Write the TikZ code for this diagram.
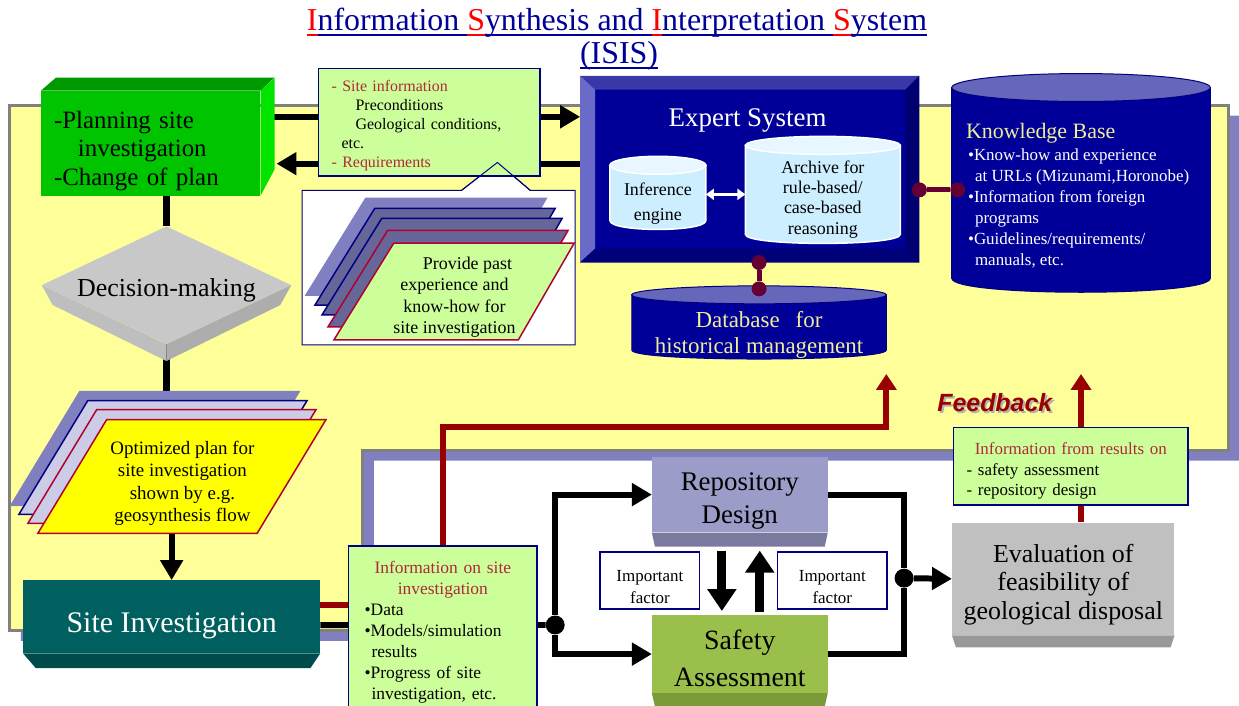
\documentclass[tikz,border=0pt]{standalone}
\usepackage{fontspec}
\setmainfont{Liberation Serif}
\newfontfamily\fbfont{Liberation Sans}
\usetikzlibrary{arrows.meta,calc,shapes.geometric}
\definecolor{bgyel}{HTML}{FFFF99}
\definecolor{bggray}{HTML}{808080}
\definecolor{lav}{HTML}{8080C0}
\definecolor{ttlblue}{HTML}{000099}
\definecolor{navyb}{HTML}{000080}
\definecolor{lgreen}{HTML}{CCFF99}
\definecolor{infored}{HTML}{B0283C}
\definecolor{gfront}{HTML}{00C400}
\definecolor{gtop}{HTML}{009A00}
\definecolor{gside}{HTML}{00E400}
\definecolor{esface}{HTML}{000099}
\definecolor{estop}{HTML}{3838A8}
\definecolor{esleft}{HTML}{6A6AC8}
\definecolor{esright}{HTML}{000070}
\definecolor{esbot}{HTML}{000078}
\definecolor{cylblue}{HTML}{CCEEFF}
\definecolor{cyltop}{HTML}{E8F6FF}
\definecolor{cyllav}{HTML}{6666BB}
\definecolor{khaki}{HTML}{EEEE99}
\definecolor{linkred}{HTML}{660033}
\definecolor{fbred}{HTML}{990000}
\definecolor{pgray}{HTML}{666699}
\definecolor{plight}{HTML}{CCCCE6}
\definecolor{pyel}{HTML}{FFFF00}
\definecolor{redb}{HTML}{B00030}
\definecolor{dtop}{HTML}{C8C8C8}
\definecolor{dleft}{HTML}{BEBEBE}
\definecolor{dright}{HTML}{ADADAD}
\definecolor{sicol}{HTML}{006060}
\definecolor{sibot}{HTML}{004C4C}
\definecolor{rdcol}{HTML}{9C9CC8}
\definecolor{rdbot}{HTML}{7A7A9E}
\definecolor{sacol}{HTML}{9BBF4B}
\definecolor{sabot}{HTML}{7A9A38}
\definecolor{evcol}{HTML}{C0C0C0}
\definecolor{evbot}{HTML}{999999}
\pgfdeclarelayer{back}
\pgfdeclarelayer{conn}
\pgfsetlayers{back,conn,main}
\newcommand\fsz[2]{\fontsize{#1}{#2}\selectfont}
\newcommand\lo[1]{\rule{0pt}{#1pt}}
\newcommand\ulc[2]{\sbox0{#2}\rlap{\color{#1}\rule[-5pt]{\wd0}{2.2pt}}\usebox0}
\newcommand\drawcyl[4]{%
  \path[#2] let \p1=(#1.north west),\p2=(#1.south east) in
    (\x1,\y1) -- (\x1,\y2+#4pt) .. controls (\x1,\y2-#4pt/3) and (\x2,\y2-#4pt/3) .. (\x2,\y2+#4pt) -- (\x2,\y1) -- cycle;
  \path[#3] let \p1=(#1.north west),\p2=(#1.north east) in
    (#1.north) ellipse [x radius={(\x2-\x1)/2}, y radius=#4pt];}

\begin{document}
\begin{tikzpicture}[x=1pt,y=-1pt,
    corner/.style={inner sep=0pt,anchor=north west},
    infobox/.style={corner,draw=navyb,line width=1.5pt,fill=lgreen},
    impbox/.style={draw=navyb,line width=1.5pt,fill=white,align=center,inner sep=0pt,font=\fsz{17}{23}},
    cylbox/.style={inner sep=0pt},
    cyltxt/.style={inner sep=0pt,align=center},
    blk/.style={line width=6pt},
    arr/.style={line width=6pt,-{Triangle[length=20pt,width=22pt]}},
    fatarr/.style={line width=9pt,-{Triangle[length=22pt,width=28pt]}},
    fbarr/.style={line width=6pt,draw=fbred,-{Triangle[length=16pt,width=20pt]}},
    link/.style={line width=5pt,draw=linkred},
    ldot/.style={circle,fill=linkred,inner sep=0pt,minimum size=15pt},
    jdot/.style={circle,fill=black,inner sep=0pt,minimum size=19pt},
    paper/.style={line width=1.5pt}]
\begin{pgfonlayer}{back}
  \fill[white] (0,0) rectangle (1239,708);
  \fill[lav] (21,116) -- (1243,116) -- (1243,462) -- (375,462) -- (375,643) -- (21,643) -- cycle;
  \filldraw[fill=bgyel,draw=bggray,line width=3pt] (10,106) -- (1232,106) -- (1232,452) -- (364,452) -- (364,633) -- (10,633) -- cycle;
\end{pgfonlayer}
\useasboundingbox (0,0) rectangle (1239,708);

\node[anchor=base,inner sep=0pt,text=ttlblue,font=\fsz{32}{36}] (title) at (619,31) {\ulc{red}{\color{red}I}\ulc{ttlblue}{nformation }\ulc{red}{\color{red}S}\ulc{ttlblue}{ynthesis and }\ulc{red}{\color{red}I}\ulc{ttlblue}{nterpretation }\ulc{red}{\color{red}S}\ulc{ttlblue}{ystem}};
\node[anchor=base,inner sep=0pt,text=ttlblue,font=\fsz{32}{36}] (isis) at (621,64) {\ulc{ttlblue}{(ISIS)}};

\node[corner,fill=gfront,minimum width=220pt,minimum height=105pt,inner xsep=13pt,text width=194pt,align=left,font=\fsz{25}{28.5}] (plan) at (41,91) {\lo{33}-Planning site\\\hspace*{24pt}investigation\\-Change of plan};
\fill[gtop] (plan.north west) -- ++(15,-13) -- ++(219,0) -- (plan.north east) -- cycle;
\fill[gside] (plan.north east) -- ++(14,-13) -- ++(0,92) -- (plan.south east) -- cycle;

\filldraw[fill=white,draw=navyb,line width=1pt] (303,191) -- (463,191) -- (499,163) -- (532,191) -- (577,191) -- (577,346) -- (303,346) -- cycle;
\node[infobox,minimum width=222pt,minimum height=108pt,inner xsep=13pt,text width=196pt,align=left,font=\fsz{16}{19}] (siteinfo) at (319,68) {\lo{17}{\color{infored}- Site information}\\\hspace*{24pt}Preconditions\\\hspace*{24pt}Geological conditions,\\\hspace*{10pt}etc.\\{\color{infored}- Requirements}};
\draw[navyb,line width=1pt] (463,191) -- (499,163) -- (532,191);
\foreach \dx/\dy/\fc/\dc in {-28/-45/lav/lav,-19/-35/pgray/navyb,-12/-25/pgray/navyb,-6/-13/pgray/redb,0/0/lgreen/redb}
  \filldraw[paper,fill=\fc,draw=\dc,shift={(\dx,\dy)}] (395,244) -- (576,244) -- (520,341) -- (335,341) -- cycle;
\node[cyltxt,font=\fsz{18}{21.5}] (past) at (456,298) {\hspace*{26pt}Provide past\\experience and\\know-how for\\site investigation};

\node[corner,fill=esface,minimum width=340pt,minimum height=187pt] (es) at (582,76) {};
\fill[estop] (es.north west) -- (es.north east) -- ++(-14,14) -- ([shift={(15,14)}]es.north west) -- cycle;
\fill[esleft] (es.north west) -- ([shift={(15,14)}]es.north west) -- ([shift={(15,-14)}]es.south west) -- (es.south west) -- cycle;
\fill[esright] (es.north east) -- ([shift={(-14,14)}]es.north east) -- ([shift={(-14,-14)}]es.south east) -- (es.south east) -- cycle;
\fill[esbot] (es.south west) -- ([shift={(15,-14)}]es.south west) -- ([shift={(-14,-14)}]es.south east) -- (es.south east) -- cycle;
\node[text=white,font=\fsz{27}{30}] (estitle) at (750,121) {Expert System};

\path (660,198) node[cylbox,minimum width=96pt,minimum height=64pt] (inf) {};
\drawcyl{inf}{fill=cylblue,draw=white,line width=1.5pt}{fill=cyltop,draw=white,line width=1.5pt}{9}
\node[cyltxt,font=\fsz{18}{25}] (inftxt) at ([yshift=-6pt]inf.center) {Inference\\engine};
\path (825.5,195) node[cylbox,minimum width=155pt,minimum height=98pt] (arch) {};
\drawcyl{arch}{fill=cylblue,draw=white,line width=1.5pt}{fill=cyltop,draw=white,line width=1.5pt}{9}
\node[cyltxt,font=\fsz{18}{20.5}] (archtxt) at ([yshift=-5pt]arch.center) {Archive for\\rule-based/\\case-based\\reasoning};
\draw[white,line width=3pt,{Triangle[length=8pt,width=11pt]}-{Triangle[length=8pt,width=11pt]}] (inf.east |- arch) -- (arch.west);

\path (1084.5,190.5) node[cylbox,minimum width=259pt,minimum height=205pt] (kb) {};
\drawcyl{kb}{fill=esface,draw=navyb,line width=1pt}{fill=cyllav,draw=navyb,line width=1pt}{14}
\node[anchor=west,inner sep=0pt,text=khaki,font=\fsz{22}{26}] (kbtitle) at (969,134) {Knowledge Base};
\node[anchor=north west,align=left,inner sep=0pt,text=white,font=\fsz{17}{21}] (kbtext) at (971,149) {\textbullet Know-how and experience\\\hspace*{7pt}at URLs (Mizunami,Horonobe)\\\textbullet Information from foreign\\\hspace*{7pt}programs\\\textbullet Guidelines/requirements/\\\hspace*{7pt}manuals, etc.};

\path (761.5,328) node[cylbox,minimum width=255pt,minimum height=64pt] (db) {};
\drawcyl{db}{fill=esface,draw=navyb,line width=1pt}{fill=cyllav,draw=navyb,line width=1pt}{9}
\node[cyltxt,text=khaki,font=\fsz{23}{26}] (dbtxt) at ([yshift=-8pt]db.center) {Database\hspace{0.7em}for\\historical management};

\node[ldot] (d1) at (es.east |- kb.west) {};
\node[ldot] (d2) at ([xshift=6pt]kb.west) {};
\node[ldot] (d3) at (db.north |- es.south) {};
\node[ldot] (d4) at ([yshift=6pt]db.north) {};

\node[diamond,aspect=2.12,inner sep=0pt,minimum width=250pt,minimum height=118pt,fill=dtop,font=\fsz{26}{28}] (dec) at (167,286) {\raisebox{-5pt}[\height][\depth]{Decision-making}};
\fill[dleft] (dec.west) -- (dec.south) -- ++(0,17) -- ([shift={(11,20)}]dec.west) -- cycle;
\fill[dright] (dec.east) -- (dec.south) -- ++(0,17) -- ([shift={(-11,20)}]dec.east) -- cycle;

\foreach \dx/\dy/\fc/\dc in {-27/-28/lav/lav,-19/-19/plight/navyb,-10/-10/plight/redb,0/0/pyel/redb}
  \filldraw[paper,fill=\fc,draw=\dc,shift={(\dx,\dy)}] (107,421) -- (327,421) -- (258,535) -- (38,535) -- cycle;
\node[cyltxt,font=\fsz{19}{22.3}] (opt) at (183,485) {Optimized plan for\\site investigation\\shown by e.g.\\geosynthesis flow};

\node[corner,fill=sicol,minimum width=298pt,minimum height=73pt,text=white,font=\fsz{30}{32}] (si) at (23,582) {\raisebox{-9pt}[\height][\depth]{Site Investigation}};
\fill[sibot] (si.south west) -- (si.south east) -- ++(-10,15) -- ([shift={(13,15)}]si.south west) -- cycle;

\node[infobox,minimum width=189pt,minimum height=165pt,inner xsep=16pt,text width=157pt,align=left,font=\fsz{17.5}{21}] (siinv) at (349,547) {\lo{20}\makebox[\linewidth]{\color{infored}Information on site}\\\makebox[\linewidth]{\color{infored}investigation}\\\textbullet Data\\\textbullet Models/simulation\\\hspace*{7pt}results\\\textbullet Progress of site\\\hspace*{7pt}investigation, etc.};

\node[jdot] (jl) at (557,627) {};
\node[corner,fill=rdcol,minimum width=176pt,minimum height=76pt,align=center,font=\fsz{27}{33}] (rd) at (654,458) {\lo{31}Repository\\Design};
\fill[rdbot] (rd.south west) -- (rd.south east) -- ++(-3,14) -- ([shift={(3,14)}]rd.south west) -- cycle;
\node[corner,fill=sacol,minimum width=176pt,minimum height=78pt,align=center,font=\fsz{28}{37}] (sa) at (654,617) {\lo{28}Safety\\Assessment};
\fill[sabot] (sa.south west) -- (sa.south east) -- ++(-3,13) -- ([shift={(3,13)}]sa.south west) -- cycle;
\node[impbox,minimum width=100pt,minimum height=57pt] (imp1) at (652,582.5) {\lo{24}Important\\factor};
\node[impbox,minimum width=110pt,minimum height=57pt] (imp2) at (835,582.5) {\lo{24}Important\\factor};
\draw[fatarr] ([shift={(-18,18)}]rd.south) -- ([shift={(-18,-4)}]sa.north);
\draw[fatarr] ([shift={(20,-3)}]sa.north) -- ([shift={(20,18)}]rd.south);

\node[jdot] (jr) at (907,580) {};
\node[corner,fill=evcol,minimum width=223pt,minimum height=113pt,align=center,font=\fsz{26}{29}] (ev) at (955,524) {\lo{30}Evaluation of\\feasibility of\\geological disposal};
\fill[evbot] (ev.south west) -- (ev.south east) -- ++(-4,12) -- ([shift={(4,12)}]ev.south west) -- cycle;

\node[infobox,minimum width=235pt,minimum height=78pt,inner xsep=13pt,text width=209pt,align=left,font=\fsz{17}{20.5}] (res) at (956,428) {\lo{22}\makebox[\linewidth]{\color{infored}Information from results on}\\- safety assessment\\- repository design};

\node[font=\fbfont\bfseries\itshape\fsz{25}{27},text=gray!60] (fbshadow) at (1000,406) {Feedback};
\node[font=\fbfont\bfseries\itshape\fsz{25}{27},text=fbred] (fb) at (998,404) {Feedback};

\begin{pgfonlayer}{conn}
  \coordinate (ptop) at ($(plan.east)+(0,-26.5)$);
  \coordinate (pbot) at ($(plan.east)+(16,20.5)$);
  \draw[arr] (ptop) -- (ptop -| es.west);
  \draw[arr] (pbot -| es.west) -- (pbot);
  \draw[link] (d1) -- (d2);
  \draw[link] (d3) -- (d4);
  \draw[blk,line width=7pt] (plan.south -| dec.north) -- (dec.north);
  \draw[blk,line width=7pt] (dec.south) -- (dec.south |- opt);
  \draw[arr] (si.north |- opt) -- (si.north);
  \draw[fbarr] ([yshift=11.5pt]si.east) -| (siinv.north) |- ([yshift=-68pt]db.south east) -- ([yshift=-15pt]db.south east);
  \draw[fbarr] (ev.north -| kb.south) -- ([yshift=-82pt]kb.south);
  \draw[blk] ([yshift=-8.5pt]si.east) -- (jl);
  \draw[arr] (jl) |- (rd.west);
  \draw[arr] (jl) |- (sa.west);
  \draw[blk] (rd.east) -| (jr);
  \draw[blk] (jr) |- (sa.east);
  \draw[arr] (jr) -- (ev.west);
\end{pgfonlayer}
\end{tikzpicture}
\end{document}
